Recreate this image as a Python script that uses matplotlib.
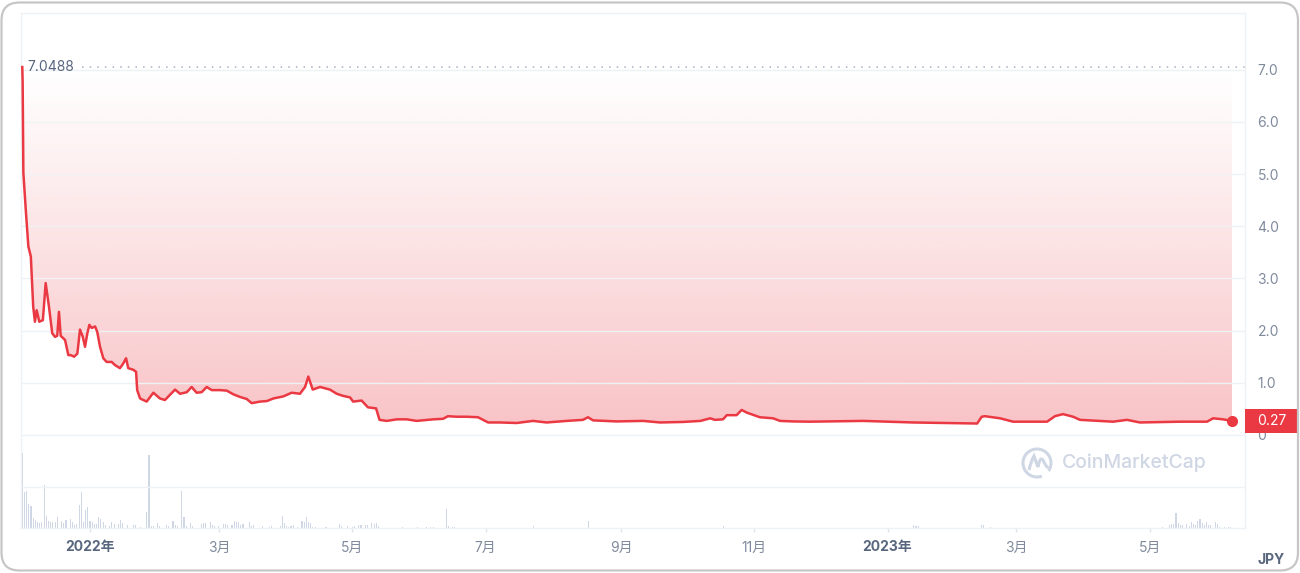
import numpy as np
import pandas as pd
import matplotlib
matplotlib.use("Agg")
import matplotlib.pyplot as plt
import matplotlib.dates as mdates
import matplotlib.transforms as mtrans
from matplotlib.patches import FancyBboxPatch, Rectangle, Arc
from matplotlib.path import Path
from matplotlib.patches import PathPatch

plt.rcParams['font.family'] = ['Inter', 'Noto Sans CJK JP', 'DejaVu Sans']

# ---------- data (JPY) ----------
price_dates = [
    '2021-12-01 00:00', '2021-12-01 04:00', '2021-12-01 12:00', '2021-12-02 17:00', '2021-12-03 19:00',
    '2021-12-04 22:00', '2021-12-06 00:00', '2021-12-06 19:00', '2021-12-07 14:00', '2021-12-08 19:00',
    '2021-12-10 10:00', '2021-12-11 17:00', '2021-12-13 05:00', '2021-12-14 17:00', '2021-12-16 00:00',
    '2021-12-17 00:00', '2021-12-17 19:00', '2021-12-18 14:00', '2021-12-20 14:00', '2021-12-22 02:00',
    '2021-12-23 05:00', '2021-12-24 17:00', '2021-12-26 05:00', '2021-12-27 10:00', '2021-12-28 17:00',
    '2021-12-29 17:00', '2021-12-30 19:00', '2021-12-31 17:00', '2022-01-01 19:00', '2022-01-03 07:00',
    '2022-01-04 07:00', '2022-01-05 14:00', '2022-01-07 02:00', '2022-01-08 14:00', '2022-01-10 22:00',
    '2022-01-12 10:00', '2022-01-14 17:00', '2022-01-16 05:00', '2022-01-17 12:00', '2022-01-18 12:00',
    '2022-01-20 19:00', '2022-01-22 02:00', '2022-01-22 14:00', '2022-01-23 22:00', '2022-01-26 22:00',
    '2022-01-30 00:00', '2022-02-02 00:00', '2022-02-04 07:00', '2022-02-06 14:00', '2022-02-08 22:00',
    '2022-02-11 05:00', '2022-02-14 07:00', '2022-02-16 12:00', '2022-02-18 19:00', '2022-02-21 02:00',
    '2022-02-23 10:00', '2022-02-25 17:00', '2022-03-01 12:00', '2022-03-04 14:00', '2022-03-07 14:00',
    '2022-03-10 14:00', '2022-03-13 17:00', '2022-03-16 00:00', '2022-03-19 19:00', '2022-03-22 22:00',
    '2022-03-25 22:00', '2022-03-30 12:00', '2022-04-03 07:00', '2022-04-07 02:00', '2022-04-09 10:00',
    '2022-04-10 22:00', '2022-04-12 22:00', '2022-04-16 07:00', '2022-04-20 19:00', '2022-04-23 22:00',
    '2022-04-26 19:00', '2022-04-30 00:00', '2022-05-01 10:00', '2022-05-05 07:00', '2022-05-08 05:00',
    '2022-05-11 22:00', '2022-05-13 12:00', '2022-05-16 19:00', '2022-05-21 10:00', '2022-05-25 22:00',
    '2022-05-30 12:00', '2022-06-07 00:00', '2022-06-11 14:00', '2022-06-13 19:00', '2022-06-17 19:00',
    '2022-06-22 10:00', '2022-06-27 14:00', '2022-07-02 05:00', '2022-07-07 14:00', '2022-07-15 07:00',
    '2022-07-22 17:00', '2022-07-29 00:00', '2022-08-07 05:00', '2022-08-14 14:00', '2022-08-16 22:00',
    '2022-08-19 05:00', '2022-08-30 02:00', '2022-09-11 02:00', '2022-09-18 22:00', '2022-09-29 10:00',
    '2022-10-07 10:00', '2022-10-11 19:00', '2022-10-14 00:00', '2022-10-17 17:00', '2022-10-19 10:00',
    '2022-10-23 22:00', '2022-10-26 05:00', '2022-10-28 12:00', '2022-11-03 14:00', '2022-11-09 14:00',
    '2022-11-12 19:00', '2022-11-18 17:00', '2022-11-26 12:00', '2022-12-20 19:00', '2023-01-12 17:00',
    '2023-02-11 00:00', '2023-02-13 02:00', '2023-02-14 14:00', '2023-02-21 12:00', '2023-02-27 10:00',
    '2023-03-15 00:00', '2023-03-18 14:00', '2023-03-22 07:00', '2023-03-26 22:00', '2023-03-30 02:00',
    '2023-04-14 05:00', '2023-04-20 14:00', '2023-04-26 12:00', '2023-05-14 22:00', '2023-05-27 05:00',
    '2023-05-30 00:00', '2023-06-03 12:00', '2023-06-07 17:00',
]
price_values = [
    7.0488, 6.77, 5.02, 4.25, 3.61, 3.42, 2.46, 2.17, 2.39, 2.17,
    2.20, 2.91, 2.46, 1.95, 1.88, 1.90, 2.36, 1.90, 1.82, 1.53,
    1.53, 1.50, 1.56, 2.02, 1.88, 1.69, 1.95, 2.11, 2.05, 2.08,
    1.98, 1.69, 1.47, 1.40, 1.40, 1.34, 1.28, 1.37, 1.47, 1.28,
    1.25, 1.21, 0.86, 0.70, 0.64, 0.81, 0.70, 0.67, 0.77, 0.87,
    0.79, 0.82, 0.92, 0.81, 0.82, 0.92, 0.86, 0.86, 0.85, 0.78,
    0.73, 0.69, 0.61, 0.64, 0.65, 0.70, 0.74, 0.81, 0.79, 0.92,
    1.12, 0.87, 0.92, 0.87, 0.79, 0.75, 0.72, 0.64, 0.66, 0.53,
    0.51, 0.29, 0.27, 0.30, 0.30, 0.27, 0.30, 0.31, 0.36, 0.35,
    0.35, 0.34, 0.24, 0.24, 0.23, 0.27, 0.24, 0.27, 0.29, 0.34,
    0.28, 0.26, 0.27, 0.24, 0.25, 0.27, 0.32, 0.29, 0.30, 0.38,
    0.38, 0.48, 0.43, 0.34, 0.32, 0.27, 0.26, 0.255, 0.27, 0.24,
    0.22, 0.35, 0.36, 0.32, 0.255, 0.255, 0.36, 0.40, 0.35, 0.29,
    0.255, 0.29, 0.24, 0.255, 0.255, 0.32, 0.30, 0.27,
]

vol_dates = [
    '2021-12-01', '2021-12-02', '2021-12-03', '2021-12-04', '2021-12-05', '2021-12-06', '2021-12-07',
    '2021-12-08', '2021-12-09', '2021-12-10', '2021-12-11', '2021-12-12', '2021-12-13', '2021-12-14',
    '2021-12-15', '2021-12-16', '2021-12-17', '2021-12-19', '2021-12-20', '2021-12-21', '2021-12-23',
    '2021-12-24', '2021-12-25', '2021-12-26', '2021-12-27', '2021-12-28', '2021-12-29', '2021-12-30',
    '2021-12-31', '2022-01-01', '2022-01-02', '2022-01-03', '2022-01-04', '2022-01-05', '2022-01-06',
    '2022-01-07', '2022-01-08', '2022-01-10', '2022-01-11', '2022-01-12', '2022-01-14', '2022-01-15',
    '2022-01-16', '2022-01-18', '2022-01-21', '2022-01-22', '2022-01-24', '2022-01-27', '2022-01-28',
    '2022-01-29', '2022-01-30', '2022-02-01', '2022-02-02', '2022-02-05', '2022-02-06', '2022-02-08',
    '2022-02-09', '2022-02-10', '2022-02-12', '2022-02-13', '2022-02-14', '2022-02-16', '2022-02-17',
    '2022-02-21', '2022-02-22', '2022-02-23', '2022-02-25', '2022-02-26', '2022-02-27', '2022-03-01',
    '2022-03-03', '2022-03-04', '2022-03-05', '2022-03-07', '2022-03-08', '2022-03-09', '2022-03-10',
    '2022-03-11', '2022-03-12', '2022-03-15', '2022-03-16', '2022-03-17', '2022-03-21', '2022-03-24',
    '2022-03-25', '2022-03-29', '2022-03-30', '2022-03-31', '2022-04-01', '2022-04-02', '2022-04-03',
    '2022-04-04', '2022-04-06', '2022-04-08', '2022-04-09', '2022-04-10', '2022-04-11', '2022-04-12',
    '2022-04-13', '2022-04-14', '2022-04-19', '2022-04-25', '2022-04-26', '2022-04-29', '2022-05-01',
    '2022-05-02', '2022-05-04', '2022-05-05', '2022-05-07', '2022-05-08', '2022-05-10', '2022-05-11',
    '2022-05-12', '2022-05-13', '2022-05-24', '2022-05-31', '2022-06-04', '2022-06-06', '2022-06-07',
    '2022-06-13', '2022-06-14', '2022-06-16', '2022-06-17', '2022-07-23', '2022-08-17', '2022-10-18',
    '2023-01-13', '2023-01-14', '2023-01-15', '2023-02-13', '2023-02-14', '2023-02-17', '2023-05-07',
    '2023-05-10', '2023-05-11', '2023-05-12', '2023-05-13', '2023-05-14', '2023-05-15', '2023-05-16',
    '2023-05-18', '2023-05-19', '2023-05-20', '2023-05-21', '2023-05-22', '2023-05-23', '2023-05-24',
    '2023-05-25', '2023-05-26', '2023-05-27', '2023-05-28', '2023-05-29', '2023-05-31', '2023-06-01',
    '2023-06-02', '2023-06-04', '2023-06-06', '2023-06-07',
]
vol_values = [
    75, 36, 37, 24, 22, 10, 8, 6, 5, 6, 43, 12, 7, 6, 6, 6, 11, 7, 5, 8, 9,
    6, 3, 4, 23, 36, 6, 18, 21, 7, 6, 4, 4, 11, 9, 6, 3, 2, 6, 4, 4, 8,
    5, 3, 3, 3, 1, 16, 73, 2, 2, 5, 2, 3, 2, 7, 3, 2, 37, 11, 2, 5, 2,
    4, 5, 5, 6, 3, 2, 2, 4, 4, 3, 3, 7, 6, 6, 3, 4, 6, 2, 3, 2, 1,
    2, 2, 12, 5, 2, 1, 2, 3, 1, 7, 6, 11, 6, 5, 1, 1, 1, 4, 2, 2, 1,
    2, 3, 3, 3, 3, 5, 4, 5, 2, 1, 1, 1, 1, 1, 19, 2, 1, 1, 2, 7, 2,
    3, 2, 2, 3, 3, 1, 1, 3, 4, 4, 15, 5, 3, 3, 4, 2, 6, 4, 3, 7, 9,
    5, 3, 6, 3, 3, 6, 4, 1, 1, 1, 1,
]

ytick_vals = [-1, 0, 1, 2, 3, 4, 5, 6, 7]
ytick_labels = ['', '0', '1.0', '2.0', '3.0', '4.0', '5.0', '6.0', '7.0']
xtick_dates = ['2022-01-01', '2022-03-01', '2022-05-01', '2022-07-01', '2022-09-01',
               '2022-11-01', '2023-01-01', '2023-03-01', '2023-05-01']
xtick_labels = ['2022年', '3月', '5月', '7月', '9月', '11月', '2023年', '3月', '5月']
max_price = 7.0488
last_price = 0.27

RED = '#ea3943'
GRID = '#eff2f5'
LABEL = '#808a9d'
DARK = '#58667e'
VOLC = '#cfd6e4'

# ---------- figure ----------
W, H = 1300, 573
fig = plt.figure(figsize=(W / 100, H / 100), dpi=100)
fig.patch.set_facecolor('white')

# plot box: pixels x 21..1245, y 13..528 (from top)
ax = fig.add_axes([21 / W, (H - 528) / H, 1224 / W, 515 / H])
axv = ax.twinx()
ax.set_zorder(axv.get_zorder() + 1)
ax.patch.set_visible(False)

t = pd.to_datetime(price_dates)
p = np.array(price_values)
tn = mdates.date2num(t)

x0 = mdates.date2num(pd.Timestamp('2021-11-30 10:00'))
x1 = mdates.date2num(pd.Timestamp('2023-06-13 14:00'))
px_per_unit = 52.2
ylo = (435 - 528) / px_per_unit
yhi = (435 - 13) / px_per_unit

# gradient fill between line and starting level
poly = ax.fill_between(tn, p, max_price, facecolor='none', edgecolor='none')
ny = 300
levels = np.linspace(max_price, 0, ny)
alpha = 0.31 * (1 - levels / max_price) ** 1.05
rgb = np.array(matplotlib.colors.to_rgb(RED))
grad = np.zeros((ny, 2, 4))
grad[:, :, :3] = rgb
grad[:, :, 3] = alpha[:, None]
im = ax.imshow(grad, extent=[tn[0], tn[-1], 0, max_price], aspect='auto',
               origin='upper', zorder=1, interpolation='bilinear')
im.set_clip_path(poly.get_paths()[0], transform=ax.transData)

ax.plot(tn, p, color=RED, lw=1.8, zorder=3, solid_joinstyle='round')
ax.plot(tn[-1], p[-1], 'o', color=RED, ms=7, zorder=4, clip_on=False)

# max dotted line + label
ax.axhline(max_price, xmin=0.05, xmax=1.0, color='#a6b0c3', lw=1.1,
           linestyle=(0, (1, 4)), zorder=2)
ax.text(0.005, max_price, '7.0488', transform=mtrans.blended_transform_factory(ax.transAxes, ax.transData),
        ha='left', va='center', fontsize=10, color=DARK, zorder=5)

ax.set_xlim(x0, x1)
ax.set_ylim(ylo, yhi)
ax.set_yticks(ytick_vals)
ax.set_yticklabels(ytick_labels)
ax.yaxis.tick_right()
ax.tick_params(axis='y', length=0, pad=9, labelsize=10, labelcolor=LABEL)
ax.grid(axis='y', color=GRID, lw=1, zorder=0)

ax.set_xticks(mdates.date2num(pd.to_datetime(xtick_dates)))
ax.set_xticklabels(xtick_labels)
ax.tick_params(axis='x', length=3, width=1, color='#dfe3ea', pad=6, labelsize=10, labelcolor=LABEL)
for lbl in ax.get_xticklabels():
    if '年' in lbl.get_text():
        lbl.set_fontweight('bold')
        lbl.set_color(DARK)

for side in ['left', 'right', 'bottom', 'top']:
    ax.spines[side].set_color(GRID)
    ax.spines[side].set_linewidth(1)
for s in axv.spines.values():
    s.set_visible(False)

# volume bars
vt = mdates.date2num(pd.to_datetime(vol_dates))
axv.bar(vt, vol_values, width=0.5, color=VOLC, align='center', zorder=1, antialiased=False)
axv.set_ylim(0, 515)
axv.set_yticks([])
axv.set_xlim(x0, x1)

# last-price badge
bt = mtrans.blended_transform_factory(ax.transAxes, ax.transData)
hh = 11.7 / px_per_unit
ax.add_patch(Rectangle((1.0, last_price - hh), 0.0435, 2 * hh, transform=bt,
                       facecolor=RED, edgecolor='none', clip_on=False, zorder=6))
ax.text(1.0217, last_price, f'{last_price:.2f}', transform=bt, ha='center', va='center',
        color='white', fontsize=10, zorder=7, clip_on=False)

# JPY
fig.text(1271 / W, (H - 560) / H, 'JPY', ha='center', va='center', fontsize=10,
         fontweight='bold', color=DARK)

# watermark
idt = mtrans.IdentityTransform()
cx, cy = 1037, H - 463
fig.add_artist(Arc((cx, cy), 28, 28, theta1=-35, theta2=290, color=VOLC, lw=2.2, transform=idt))
wave = Path([(cx - 8, cy - 7), (cx - 6, cy + 2), (cx - 3, cy + 7), (cx - 1, cy + 1),
             (cx + 1, cy - 4), (cx + 3, cy + 7), (cx + 6, cy + 3), (cx + 8, cy - 2), (cx + 11, cy - 5)],
            [Path.MOVETO] + [Path.CURVE3] * 8)
fig.add_artist(PathPatch(wave, facecolor='none', edgecolor=VOLC, lw=2.2, transform=idt))
fig.text(1062 / W, cy / H, 'CoinMarketCap', ha='left', va='center', fontsize=14,
         color=VOLC, fontweight='medium')

# outer rounded frame
fig.add_artist(FancyBboxPatch((1.5, 2.5), W - 3.5, H - 5, boxstyle='round,pad=0,rounding_size=18',
                              facecolor='none', edgecolor='#c6c6c6', lw=1.6, transform=idt, zorder=20))

fig.savefig('out.png', dpi=100, facecolor='white')
